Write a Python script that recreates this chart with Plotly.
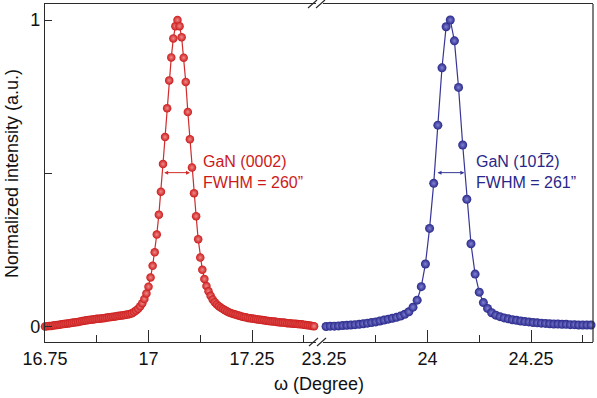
import plotly.graph_objects as go

# ---------------- data ----------------
omega_0002 = [
    16.750, 16.755, 16.760, 16.765, 16.770, 16.775, 16.780, 16.785, 16.790, 16.795,
    16.800, 16.805, 16.810, 16.815, 16.820, 16.825, 16.830, 16.835, 16.840, 16.845,
    16.850, 16.855, 16.860, 16.865, 16.870, 16.875, 16.880, 16.885, 16.890, 16.895,
    16.900, 16.905, 16.910, 16.915, 16.920, 16.925, 16.930, 16.935, 16.940, 16.945,
    16.950, 16.955, 16.960, 16.965, 16.970, 16.975, 16.980, 16.985, 16.990, 16.995,
    17.000, 17.005, 17.010, 17.015, 17.020, 17.025, 17.030, 17.035, 17.040, 17.045,
    17.050, 17.055, 17.060, 17.065, 17.070, 17.075, 17.080, 17.085, 17.090, 17.095,
    17.100, 17.105, 17.110, 17.115, 17.120, 17.125, 17.130, 17.135, 17.140, 17.145,
    17.150, 17.155, 17.160, 17.165, 17.170, 17.175, 17.180, 17.185, 17.190, 17.195,
    17.200, 17.205, 17.210, 17.215, 17.220, 17.225, 17.230, 17.235, 17.240, 17.245,
    17.250, 17.255, 17.260, 17.265, 17.270, 17.275, 17.280, 17.285, 17.290, 17.295,
    17.300, 17.305, 17.310, 17.315, 17.320, 17.325, 17.330, 17.335, 17.340, 17.345,
    17.350, 17.355, 17.360, 17.365, 17.370, 17.375, 17.380, 17.385, 17.390, 17.395,
    17.400,
]
intensity_0002 = [
    0.000, 0.001, 0.002, 0.002, 0.003, 0.004, 0.005, 0.006, 0.007, 0.008,
    0.009, 0.010, 0.011, 0.012, 0.013, 0.014, 0.015, 0.016, 0.018, 0.019,
    0.020, 0.021, 0.022, 0.023, 0.024, 0.025, 0.025, 0.026, 0.027, 0.028,
    0.029, 0.030, 0.031, 0.032, 0.033, 0.034, 0.035, 0.036, 0.037, 0.038,
    0.039, 0.041, 0.043, 0.047, 0.052, 0.058, 0.066, 0.076, 0.090, 0.108,
    0.130, 0.160, 0.198, 0.242, 0.300, 0.365, 0.440, 0.530, 0.618, 0.712,
    0.803, 0.878, 0.940, 0.980, 1.000, 0.980, 0.944, 0.877, 0.798, 0.700,
    0.611, 0.519, 0.435, 0.360, 0.285, 0.225, 0.185, 0.155, 0.132, 0.115,
    0.100, 0.088, 0.079, 0.072, 0.066, 0.061, 0.057, 0.053, 0.049, 0.046,
    0.043, 0.041, 0.039, 0.037, 0.035, 0.033, 0.031, 0.030, 0.028, 0.027,
    0.026, 0.025, 0.024, 0.023, 0.022, 0.021, 0.020, 0.019, 0.018, 0.017,
    0.016, 0.016, 0.015, 0.014, 0.013, 0.013, 0.012, 0.011, 0.011, 0.010,
    0.009, 0.009, 0.008, 0.007, 0.007, 0.006, 0.005, 0.004, 0.003, 0.002,
    0.001,
]

omega_1012 = [
    23.755, 23.765, 23.775, 23.785, 23.795, 23.805, 23.815, 23.825, 23.835, 23.845,
    23.855, 23.865, 23.875, 23.885, 23.895, 23.905, 23.915, 23.925, 23.935, 23.945,
    23.955, 23.965, 23.975, 23.985, 23.995, 24.005, 24.015, 24.025, 24.035, 24.045,
    24.055, 24.065, 24.075, 24.085, 24.095, 24.105, 24.115, 24.125, 24.135, 24.145,
    24.155, 24.165, 24.175, 24.185, 24.195, 24.205, 24.215, 24.225, 24.235, 24.245,
    24.255, 24.265, 24.275, 24.285, 24.295, 24.305, 24.315, 24.325, 24.335, 24.345,
    24.355, 24.365, 24.375, 24.385, 24.395,
]
intensity_1012 = [
    0.000, 0.001, 0.001, 0.002, 0.003, 0.004, 0.005, 0.006, 0.007, 0.009,
    0.011, 0.013, 0.015, 0.018, 0.021, 0.024, 0.027, 0.030, 0.034, 0.040,
    0.048, 0.063, 0.086, 0.130, 0.204, 0.320, 0.467, 0.657, 0.844, 0.978,
    1.000, 0.932, 0.780, 0.592, 0.415, 0.270, 0.171, 0.112, 0.078, 0.059,
    0.045, 0.037, 0.032, 0.028, 0.025, 0.022, 0.020, 0.018, 0.016, 0.015,
    0.013, 0.012, 0.011, 0.010, 0.009, 0.008, 0.008, 0.007, 0.007, 0.006,
    0.006, 0.005, 0.005, 0.005, 0.005,
]

# tick positions / labels
left_major_ticks = [16.75, 17.0, 17.25]
left_major_text = ["16.75", "17", "17.25"]
left_minor_ticks = [16.875, 17.125, 17.375]
right_major_ticks = [23.75, 24.0, 24.25]
right_major_text = ["23.25", "24", "24.25"]
right_minor_ticks = [23.875, 24.125, 24.375]
y_ticks = [0, 0.5, 1]
y_text = ["0", "", "1"]

# FWHM markers (half maximum positions)
fwhm_0002 = [17.0343, 17.1002]
fwhm_1012 = [24.0206, 24.0890]
half_max = 0.502

# ---------------- layout geometry ----------------
W, H = 597, 398
ML, MR, MT, MB = 45, 4, 4, 56
PW, PH = W - ML - MR, H - MT - MB
PXDEG = 414.0
LEFT_END_PX = 316
RIGHT_START_PX = 323


def px_x(px):
    return (px - ML) / PW


def px_y(py):
    return (H - MB - py) / PH


left_range = [16.75, 16.75 + (LEFT_END_PX - ML) / PXDEG]
r0 = 23.75 - 1.0 / PXDEG
right_range = [r0, r0 + (W - MR - RIGHT_START_PX) / PXDEG]
y_range = [-(H - MB - 326.5) / 306.5, (326.5 - MT) / 306.5]

RED = "#cc1a1a"
RED_LINE = "#d02c2c"
BLUE = "#28288a"
BLUE_LINE = "#363696"
AX = "#2a2a2a"
FONT = "Liberation Sans, Arial, Helvetica, sans-serif"

fig = go.Figure()
fig.add_trace(go.Scatter(
    x=omega_0002, y=intensity_0002, mode="lines+markers", xaxis="x", yaxis="y",
    line=dict(color=RED_LINE, width=1.2),
    marker=dict(size=8.5, color=RED, gradient=dict(type="radial", color="#f08a8a"),
                line=dict(width=0)),
    cliponaxis=False, showlegend=False, hoverinfo="skip",
))
fig.add_trace(go.Scatter(
    x=omega_1012, y=intensity_1012, mode="lines+markers", xaxis="x2", yaxis="y",
    line=dict(color=BLUE_LINE, width=1.2),
    marker=dict(size=9, color=BLUE, gradient=dict(type="radial", color="#8282d4"),
                line=dict(width=0)),
    cliponaxis=False, showlegend=False, hoverinfo="skip",
))

common_x = dict(showline=True, linecolor=AX, linewidth=1.2, mirror=True,
                ticks="inside", ticklen=12, tickwidth=1.2, tickcolor=AX,
                showgrid=False, zeroline=False, anchor="y",
                tickfont=dict(family=FONT, size=18, color="#111"))

fig.update_layout(
    width=W, height=H,
    margin=dict(l=ML, r=MR, t=MT, b=MB, pad=0),
    paper_bgcolor="white", plot_bgcolor="white",
    font=dict(family=FONT, color="#111"),
    xaxis=dict(domain=[0, px_x(LEFT_END_PX)], range=left_range,
               tickvals=left_major_ticks, ticktext=left_major_text,
               minor=dict(ticks="inside", ticklen=7, tickwidth=1.2, tickcolor=AX,
                          tickvals=left_minor_ticks, showgrid=False),
               **common_x),
    xaxis2=dict(domain=[px_x(RIGHT_START_PX), 1], range=right_range,
                tickvals=right_major_ticks, ticktext=right_major_text,
                minor=dict(ticks="inside", ticklen=7, tickwidth=1.2, tickcolor=AX,
                           tickvals=right_minor_ticks, showgrid=False),
                **common_x),
    yaxis=dict(domain=[0, 1], range=y_range, anchor="x",
               showline=True, linecolor=AX, linewidth=1.2,
               ticks="inside", ticklen=7, tickwidth=1.2, tickcolor=AX,
               tickvals=y_ticks, ticktext=y_text,
               showgrid=False, zeroline=False,
               tickfont=dict(family=FONT, size=18, color="#111")),
)

# right border of the frame
shapes = [dict(type="line", xref="paper", yref="paper", x0=1, x1=1, y0=0, y1=1,
               line=dict(color=AX, width=1.2))]
# axis break marks (top and bottom)
for (xa, ya, xb, yb) in [(309, 346, 318, 338), (317, 346, 326, 338),
                          (308, 8, 317, 0), (316, 8, 325, 0)]:
    shapes.append(dict(type="line", xref="paper", yref="paper",
                       x0=px_x(xa), y0=px_y(ya), x1=px_x(xb), y1=px_y(yb),
                       line=dict(color=AX, width=1.2)))
fig.update_layout(shapes=shapes)

ann = []
# axis titles
ann.append(dict(text="ω (Degree)", xref="paper", yref="paper",
                x=px_x(319), y=px_y(384), xanchor="center", yanchor="middle",
                showarrow=False, font=dict(family=FONT, size=18, color="#111")))
ann.append(dict(text="Normalized intensity (a.u.)", xref="paper", yref="paper",
                x=px_x(12), y=px_y(174), xanchor="center", yanchor="middle",
                textangle=-90, showarrow=False,
                font=dict(family=FONT, size=18, color="#111")))
# FWHM double arrows
for (pair, col, xr) in [(fwhm_0002, RED_LINE, "x"), (fwhm_1012, BLUE_LINE, "x2")]:
    ann.append(dict(x=pair[1], y=half_max, ax=pair[0], ay=half_max,
                    xref=xr, yref="y", axref=xr, ayref="y",
                    showarrow=True, arrowhead=2, startarrowhead=2, arrowside="end+start",
                    arrowsize=0.8, startarrowsize=0.8, arrowwidth=1, arrowcolor=col, text=""))
# labels
ann.append(dict(text="GaN (0002)<br>FWHM = 260”", xref="paper", yref="paper",
                x=px_x(201), y=px_y(172), xanchor="left", yanchor="middle", align="left",
                showarrow=False, font=dict(family=FONT, size=16, color=RED)))
ann.append(dict(text="GaN (101\u03052)<br>FWHM = 261”", xref="paper", yref="paper",
                x=px_x(474), y=px_y(172), xanchor="left", yanchor="middle", align="left",
                showarrow=False, font=dict(family=FONT, size=16, color=BLUE)))
fig.update_layout(annotations=ann)

fig.write_html("out.html", config={"displayModeBar": False},
               post_script="document.body.style.margin='0';document.body.style.padding='0';")
